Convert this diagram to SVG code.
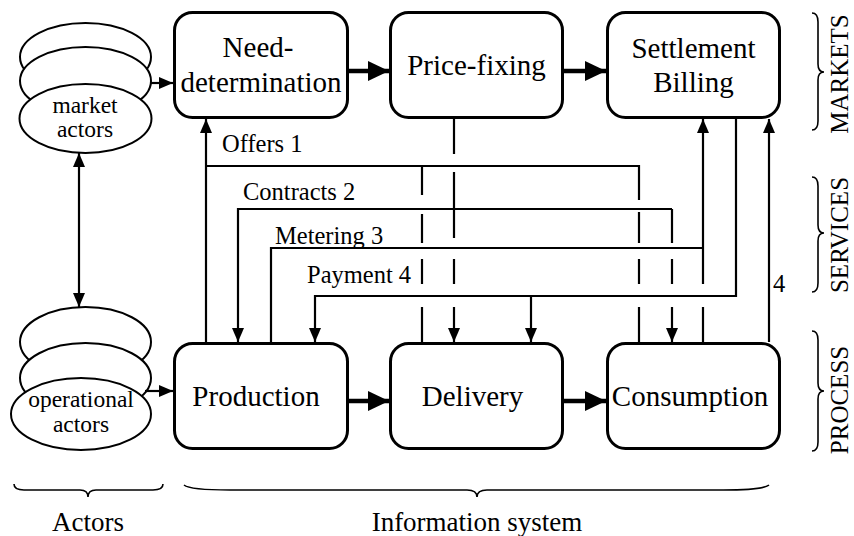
<svg xmlns="http://www.w3.org/2000/svg" width="854" height="536" viewBox="0 0 854 536" font-family="Liberation Serif, DejaVu Serif, serif">
<defs>
<marker id="ah" markerUnits="userSpaceOnUse" markerWidth="14" markerHeight="12" refX="14" refY="6" orient="auto" overflow="visible">
<path d="M0,0 L14,6 L0,12 z" fill="#000"/>
</marker>
<marker id="ahs" markerUnits="userSpaceOnUse" markerWidth="14" markerHeight="12" refX="0" refY="6" orient="auto" overflow="visible">
<path d="M14,0 L0,6 L14,12 z" fill="#000"/>
</marker>
<marker id="big" markerUnits="userSpaceOnUse" markerWidth="21" markerHeight="20" refX="21" refY="10" orient="auto" overflow="visible">
<path d="M0,0 L21,10 L0,20 z" fill="#000"/>
</marker>
</defs>
<style>
.box{fill:#fff;stroke:#000;stroke-width:3}
.ell{fill:#fff;stroke:#000;stroke-width:2}
.t{fill:#000}
.bl{font-size:29px;text-anchor:middle}
.sl{font-size:24.5px}
.el{font-size:23.5px;text-anchor:middle}
.rl{font-size:25px;text-anchor:middle}
.ll{font-size:27px;text-anchor:middle}
.c{fill:none;stroke:#000;stroke-width:2.2}
.main{fill:none;stroke:#000;stroke-width:4.5}
.br{fill:none;stroke:#000;stroke-width:1.6}
</style>

<g id="market-actors">
<ellipse class="ell" cx="85.5" cy="57" rx="65.5" ry="34"/>
<ellipse class="ell" cx="85.5" cy="81" rx="65.5" ry="34"/>
<ellipse class="ell" cx="85.5" cy="118.5" rx="66" ry="34.5"/>
<text class="t el" x="85" y="113">market</text>
<text class="t el" x="85" y="137">actors</text>
</g>

<g id="operational-actors">
<ellipse class="ell" cx="85.5" cy="342" rx="65.5" ry="35"/>
<ellipse class="ell" cx="85.5" cy="378" rx="65.5" ry="35"/>
<ellipse class="ell" cx="81" cy="414" rx="70" ry="36"/>
<text class="t el" x="81" y="407">operational</text>
<text class="t el" x="81" y="432">actors</text>
</g>

<g id="need-determination">
<rect class="box" x="174.5" y="12.5" width="173" height="105" rx="18"/>
<text class="t bl" x="258" y="57">Need-</text>
<text class="t bl" x="261" y="92">determination</text>
</g>

<g id="price-fixing">
<rect class="box" x="390.5" y="12.5" width="172" height="105" rx="18"/>
<text class="t bl" x="476.5" y="75">Price-fixing</text>
</g>

<g id="settlement-billing">
<rect class="box" x="607.5" y="12.5" width="172" height="105" rx="18"/>
<text class="t bl" x="693.5" y="58">Settlement</text>
<text class="t bl" x="693.5" y="92">Billing</text>
</g>

<g id="production">
<rect class="box" x="174.5" y="343.5" width="173" height="105" rx="18"/>
<text class="t bl" x="256" y="406">Production</text>
</g>

<g id="delivery">
<rect class="box" x="390.5" y="343.5" width="172" height="105" rx="18"/>
<text class="t bl" x="472.5" y="406">Delivery</text>
</g>

<g id="consumption">
<rect class="box" x="607.5" y="343.5" width="172" height="105" rx="18"/>
<text class="t bl" x="690" y="406">Consumption</text>
</g>

<g id="connectors">
<path class="c" d="M151,83 L173,83" marker-end="url(#ah)"/>
<path class="c" d="M145,391 L173,391" marker-end="url(#ah)"/>
<path class="c" d="M79,153 L79,307" marker-start="url(#ahs)" marker-end="url(#ah)"/>
<path class="main" d="M349,71 L389,71" marker-end="url(#big)"/>
<path class="main" d="M564,71 L606,71" marker-end="url(#big)"/>
<path class="main" d="M349,401 L389,401" marker-end="url(#big)"/>
<path class="main" d="M564,401 L606,401" marker-end="url(#big)"/>
<path class="c" d="M206,342 L206,119" marker-end="url(#ah)"/>
<path class="c" d="M206,166 L639,166 L639,200 M639,212 L639,243 M639,259 L639,284 M639,307 L639,342"/>
<path class="c" d="M422,166 L422,195 M422,214 L422,243 M422,259 L422,284 M422,307 L422,342"/>
<path class="c" d="M454,119 L454,154 M454,172 L454,238 M454,259 L454,284 M454,307 L454,342" marker-end="url(#ah)"/>
<path class="c" d="M672,209 L238,209 L238,342" marker-end="url(#ah)"/>
<path class="c" d="M672,209 L672,243 M672,259 L672,284 M672,307 L672,342" marker-end="url(#ah)"/>
<path class="c" d="M271,342 L271,248 L703,248"/>
<path class="c" d="M703,342 L703,307 M703,284 L703,119" marker-end="url(#ah)"/>
<path class="c" d="M736,119 L736,296 L315,296 L315,342" marker-end="url(#ah)"/>
<path class="c" d="M531,296 L531,342" marker-end="url(#ah)"/>
<path class="c" d="M769,342 L769,119" marker-end="url(#ah)"/>
</g>

<g id="connector-labels">
<text class="t sl" x="222" y="152">Offers 1</text>
<text class="t sl" x="243" y="200">Contracts 2</text>
<text class="t sl" x="275" y="244">Metering 3</text>
<text class="t sl" x="307" y="283">Payment 4</text>
<text class="t sl" x="773" y="292">4</text>
</g>

<g id="side-braces">
<path class="br" d="M812,13 Q818,13 818,22 L818,64 Q818,72 824,72 Q818,72 818,80 L818,121 Q818,130 812,130"/>
<path class="br" d="M812,177 Q818,177 818,186 L818,225 Q818,233 824,233 Q818,233 818,241 L818,283 Q818,292 812,292"/>
<path class="br" d="M812,331 Q818,331 818,340 L818,383 Q818,391 824,391 Q818,391 818,399 L818,442 Q818,451 812,451"/>
<text class="t rl" transform="translate(848,74) rotate(-90)">MARKETS</text>
<text class="t rl" transform="translate(848,235) rotate(-90)">SERVICES</text>
<text class="t rl" transform="translate(848,400) rotate(-90)">PROCESS</text>
</g>

<g id="bottom-braces">
<path class="br" d="M14,484 Q14,490 24,490 L80,490 Q88,490 88,497 Q88,490 96,490 L153,490 Q163,490 163,484"/>
<path class="br" d="M184,485 Q190,490 230,490 L467,490 Q477,490 477,497 Q477,490 487,490 L723,490 Q763,490 769,485"/>
<text class="t ll" x="88" y="531">Actors</text>
<text class="t ll" x="477" y="531">Information system</text>
</g>
</svg>
